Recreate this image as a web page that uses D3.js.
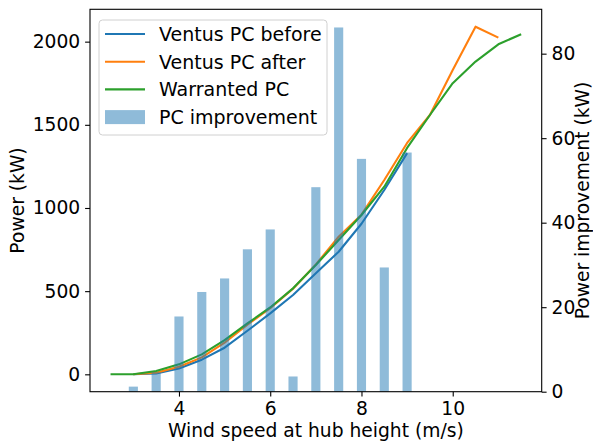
<!DOCTYPE html>
<html>
<head>
<meta charset="utf-8">
<script src="https://cdn.jsdelivr.net/npm/d3@7/dist/d3.min.js"></script>
<style>
  body { margin: 0; background: #fff; }
  text { font-family: "DejaVu Sans", sans-serif; fill: #000; }
</style>
</head>
<body>
<div id="chart"></div>
<script>
// power curves (kW)
var windBefore = [3, 3.5, 4, 4.5, 5, 5.5, 6, 6.5, 7, 7.5, 8, 8.5, 9];
var pcBefore = [0, 5, 35, 88, 160, 262, 366, 477, 608, 737, 905, 1108, 1330];

var windAfter = [3, 3.5, 4, 4.5, 5, 5.5, 6, 6.5, 7, 7.5, 8, 8.5, 9, 9.5, 10, 10.5, 11];
var pcAfter = [0, 10, 45, 102, 190, 298, 398, 515, 660, 827, 960, 1168, 1391, 1559, 1830, 2090, 2024];

var windWarranted = [2.5, 3, 3.5, 4, 4.5, 5, 5.5, 6, 6.5, 7, 7.5, 8, 8.5, 9, 9.5, 10, 10.5, 11, 11.5];
var pcWarranted = [0, 0, 20, 60, 120, 205, 306, 402, 517, 657, 808, 958, 1128, 1361, 1559, 1750, 1880, 1984, 2045];

// improvement bars (right axis, kW)
var windImprovement = [3, 3.5, 4, 4.5, 5, 5.5, 6, 6.5, 7, 7.5, 8, 8.5, 9];
var pcImprovement = [1.2, 4.6, 17.8, 23.6, 26.8, 33.7, 38.4, 3.6, 48.4, 86.2, 55.1, 29.4, 56.6];

var xTicks = [4, 6, 8, 10];
var yTicks = [0, 500, 1000, 1500, 2000];
var y2Ticks = [0, 20, 40, 60, 80];

var seriesNames = ["Ventus PC before", "Ventus PC after", "Warranted PC", "PC improvement"];
var seriesColors = ["#1f77b4", "#ff7f0e", "#2ca02c", "#1f77b4"];

var W = 593, H = 441;
var margin = {left: 90, top: 9.3, right: 51.3, bottom: 49.3};
var w = W - margin.left - margin.right,
    h = H - margin.top - margin.bottom;
var fontSize = "18.7px";

var svg = d3.select("#chart").append("svg")
    .attr("width", W)
    .attr("height", H);

var g = svg.append("g")
    .attr("transform", "translate(" + margin.left + "," + margin.top + ")");

// matplotlib-ish 5% margins
var x = d3.scaleLinear().domain([2.05, 11.95]).range([0, w]);
var y = d3.scaleLinear().domain([-104.5, 2194.5]).range([h, 0]);
var y2 = d3.scaleLinear().domain([0, 90.5]).range([h, 0]);

var line = d3.line()
    .x(function(d) { return x(d[0]); })
    .y(function(d) { return y(d[1]); });

var curves = [
    d3.zip(windBefore, pcBefore),
    d3.zip(windAfter, pcAfter),
    d3.zip(windWarranted, pcWarranted)
];

curves.forEach(function(c, i) {
    g.append("path")
        .datum(c)
        .attr("fill", "none")
        .attr("stroke", seriesColors[i])
        .attr("stroke-width", 2.1)
        .attr("stroke-linejoin", "round")
        .attr("d", line);
});

// bars live on the twin axis so they sit over the lines
var barW = 0.2;
g.append("g").selectAll("rect")
    .data(d3.zip(windImprovement, pcImprovement))
    .enter().append("rect")
    .attr("x", function(d) { return x(d[0] - barW / 2); })
    .attr("width", function(d) { return x(d[0] + barW / 2) - x(d[0] - barW / 2); })
    .attr("y", function(d) { return y2(d[1]); })
    .attr("height", function(d) { return h - y2(d[1]); })
    .attr("fill", seriesColors[3])
    .attr("fill-opacity", 0.5);

// axes
function styleAxis(sel) {
    sel.select(".domain").remove();
    sel.selectAll(".tick line").attr("stroke", "#000").attr("stroke-width", 1.1);
    sel.selectAll(".tick text").style("font-size", fontSize);
}

g.append("g")
    .attr("transform", "translate(0," + h + ")")
    .call(d3.axisBottom(x).tickValues(xTicks).tickSize(4.9).tickPadding(4.9).tickFormat(d3.format("d")))
    .call(styleAxis);

g.append("g")
    .call(d3.axisLeft(y).tickValues(yTicks).tickSize(4.9).tickPadding(4.9).tickFormat(d3.format("d")))
    .call(styleAxis);

g.append("g")
    .attr("transform", "translate(" + w + ",0)")
    .call(d3.axisRight(y2).tickValues(y2Ticks).tickSize(4.9).tickPadding(4.9).tickFormat(d3.format("d")))
    .call(styleAxis);

g.append("rect")
    .attr("width", w)
    .attr("height", h)
    .attr("fill", "none")
    .attr("stroke", "#000")
    .attr("stroke-width", 1.1);

// axis labels
svg.append("text")
    .attr("x", margin.left + w / 2)
    .attr("y", 437)
    .attr("text-anchor", "middle")
    .style("font-size", fontSize)
    .text("Wind speed at hub height (m/s)");

svg.append("text")
    .attr("transform", "translate(24," + (margin.top + h / 2) + ") rotate(-90)")
    .attr("text-anchor", "middle")
    .style("font-size", fontSize)
    .text("Power (kW)");

svg.append("text")
    .attr("transform", "translate(589," + (margin.top + h / 2) + ") rotate(-90)")
    .attr("text-anchor", "middle")
    .style("font-size", fontSize)
    .text("Power improvement (kW)");

// legend
var legend = svg.append("g").attr("transform", "translate(99,20)");
legend.append("rect")
    .attr("width", 228)
    .attr("height", 115)
    .attr("rx", 3.5)
    .attr("fill", "#fff")
    .attr("fill-opacity", 0.8)
    .attr("stroke", "#d0d0d0")
    .attr("stroke-width", 1);

seriesNames.forEach(function(name, i) {
    var cy = 14 + i * 27.7;
    if (i < 3) {
        legend.append("line")
            .attr("x1", 6).attr("x2", 46)
            .attr("y1", cy).attr("y2", cy)
            .attr("stroke", seriesColors[i])
            .attr("stroke-width", 2.1);
    } else {
        legend.append("rect")
            .attr("x", 6).attr("y", cy - 7)
            .attr("width", 40).attr("height", 14)
            .attr("fill", seriesColors[i])
            .attr("fill-opacity", 0.5);
    }
    legend.append("text")
        .attr("x", 60)
        .attr("y", cy)
        .attr("dy", "0.36em")
        .style("font-size", "19px")
        .text(name);
});
</script>
</body>
</html>
